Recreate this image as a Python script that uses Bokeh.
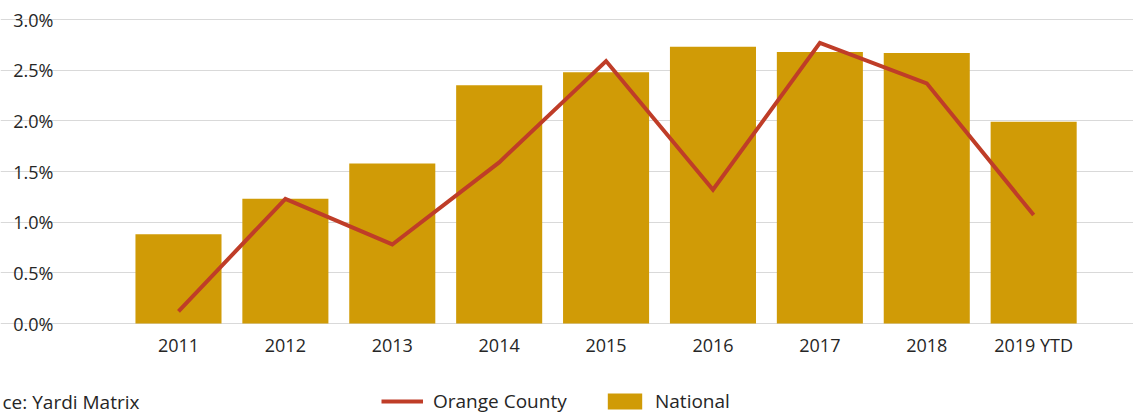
from bokeh.plotting import figure
from bokeh.embed import file_html
from bokeh.resources import INLINE
from bokeh.models import (ColumnDataSource, FixedTicker, NumeralTickFormatter,
                          Legend, LegendItem, Label, Range1d)

categories = ["2011", "2012", "2013", "2014", "2015", "2016", "2017", "2018", "2019 YTD"]
national_pct = [0.88, 1.23, 1.58, 2.35, 2.48, 2.73, 2.68, 2.67, 1.99]
orange_county_pct = [0.12, 1.23, 0.78, 1.59, 2.59, 1.32, 2.77, 2.37, 1.07]
y_ticks_pct = [0.0, 0.5, 1.0, 1.5, 2.0, 2.5, 3.0]
source_text = "ce: Yardi Matrix"

xs = list(range(len(categories)))
src = ColumnDataSource(dict(
    x=xs,
    national=[v / 100 for v in national_pct],
    oc=[v / 100 for v in orange_county_pct],
))

FONT = "Open Sans"
TXT = "#262626"
BAR = "#D09B06"
LINE = "#BF3D28"

# frame spans the whole canvas; axes are pinned inside it
X_START, X_END = -1.665, 8.934
Y_AXIS_AT = -1.001
p = figure(width=1133, height=414, output_backend="svg", toolbar_location=None,
           x_range=Range1d(X_START, X_END), y_range=Range1d(-0.00898, 0.031875),
           min_border_left=0, min_border_right=0, min_border_top=0,
           min_border_bottom=0)
p.outline_line_color = None
p.background_fill_color = "white"
p.border_fill_color = "white"

bars = p.vbar(x="x", top="national", width=0.805, bottom=0, source=src,
              fill_color=BAR, line_color=None)
line = p.line(x="x", y="oc", source=src, line_color=LINE, line_width=4,
              line_join="miter")

# axes
p.xaxis.fixed_location = 0
p.yaxis.fixed_location = Y_AXIS_AT
p.xaxis.ticker = FixedTicker(ticks=xs)
p.xaxis.major_label_overrides = {i: c for i, c in enumerate(categories)}
p.yaxis.ticker = FixedTicker(ticks=[v / 100 for v in y_ticks_pct])
p.yaxis.formatter = NumeralTickFormatter(format="0.0%")
for ax in (p.xaxis[0], p.yaxis[0]):
    ax.axis_line_color = None
    ax.major_tick_line_color = None
    ax.minor_tick_line_color = None
    ax.major_tick_out = 0
    ax.major_tick_in = 0
    ax.minor_tick_out = 0
    ax.major_label_text_font = FONT
    ax.major_label_text_font_size = "18px"
    ax.major_label_text_color = TXT
p.yaxis.major_label_standoff = 18
p.xaxis.major_label_standoff = 9

p.xgrid.grid_line_color = None
p.ygrid.grid_line_color = "#D9D9D9"
p.ygrid.grid_line_width = 1
p.ygrid.bounds = (Y_AXIS_AT, X_END)

common = dict(orientation="horizontal", glyph_height=20, padding=0, margin=0,
              border_line_color=None, background_fill_alpha=0,
              label_text_font=FONT, label_text_font_size="19px",
              label_text_color=TXT, label_height=20)
leg1 = Legend(items=[LegendItem(label="Orange County", renderers=[line])],
              location=(381, 0), glyph_width=42, label_standoff=10, **common)
leg2 = Legend(items=[LegendItem(label="National", renderers=[bars])],
              location=(603, 0), glyph_width=43, label_standoff=9, **common)
p.add_layout(leg1, "center")
p.add_layout(leg2, "center")

src_label = Label(x=2, y=13, x_units="screen", y_units="screen",
                  text=source_text, text_font=FONT, text_font_size="19px",
                  text_color=TXT, text_baseline="middle", text_align="left")
p.add_layout(src_label)

open("out.html", "w").write(file_html(p, INLINE))
